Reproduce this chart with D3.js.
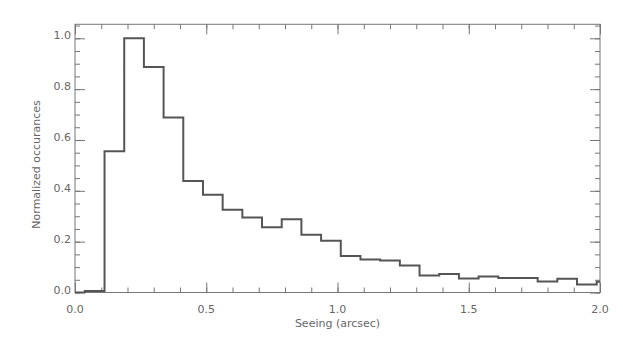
<!DOCTYPE html>
<html>
<head>
<meta charset="utf-8">
<script src="https://cdn.jsdelivr.net/npm/d3@7"></script>
<style>
  body { margin: 0; background: #fff; }
  text { font-family: "DejaVu Sans", sans-serif; fill: #666; }
</style>
</head>
<body>
<div id="chart"></div>
<script>
// histogram bins: centres at k * 0.075 arcsec
var binWidth = 0.075;
var binCenters = d3.range(0, 28).map(function(k){ return k * binWidth; });
var binValues = [0.0, 0.006, 0.556, 1.0, 0.887, 0.688, 0.439, 0.385, 0.326, 0.295,
                 0.257, 0.288, 0.227, 0.204, 0.144, 0.130, 0.126, 0.106, 0.067, 0.073,
                 0.055, 0.063, 0.057, 0.057, 0.043, 0.054, 0.031, 0.042];
var xTicks = [0.0, 0.5, 1.0, 1.5, 2.0];
var yTicks = [0.0, 0.2, 0.4, 0.6, 0.8, 1.0];

var width = 623, height = 343;
var pLeft = 75, pRight = 600, pTop = 24.3, pBottom = 292.5;

var svg = d3.select("#chart").append("svg")
  .attr("width", width)
  .attr("height", height);

var xScale = d3.scaleLinear().domain([0, 2]).range([pLeft, pRight]);
var yScale = d3.scaleLinear().domain([0, 1.055]).range([pBottom, pTop]);

var axisColor = "#777";

// minor + major ticks on all four sides, pointing inward
function ticks(axisFn, scale, majors, minors, pos, len, lenMinor){
  var g = svg.append("g").attr("transform", pos);
  g.call(axisFn(scale).tickValues(minors).tickSize(lenMinor).tickFormat(""));
  var g2 = svg.append("g").attr("transform", pos);
  g2.call(axisFn(scale).tickValues(majors).tickSize(len).tickFormat(""));
  [g, g2].forEach(function(gg){
    gg.select(".domain").remove();
    gg.selectAll("line").attr("stroke", axisColor);
  });
}

var xMinor = d3.range(0, 21).map(function(i){ return i / 10; });
var yMinor = d3.range(0, 22).map(function(i){ return i / 20; });

ticks(d3.axisBottom, xScale, xTicks, xMinor, "translate(0," + pBottom + ")", -10, -5);
ticks(d3.axisTop, xScale, xTicks, xMinor, "translate(0," + pTop + ")", -10, -5);
ticks(d3.axisLeft, yScale, yTicks, yMinor, "translate(" + pLeft + ",0)", -10, -5);
ticks(d3.axisRight, yScale, yTicks, yMinor, "translate(" + pRight + ",0)", -10, -5);

// frame
svg.append("rect")
  .attr("x", pLeft).attr("y", pTop)
  .attr("width", pRight - pLeft).attr("height", pBottom - pTop)
  .attr("fill", "none")
  .attr("stroke", axisColor)
  .attr("stroke-width", 1);

// tick labels
svg.append("g").selectAll("text")
  .data(xTicks).enter().append("text")
    .attr("x", function(d){ return xScale(d); })
    .attr("y", pBottom + 20)
    .attr("text-anchor", "middle")
    .style("font-size", "11px")
    .text(function(d){ return d.toFixed(1); });

svg.append("g").selectAll("text")
  .data(yTicks).enter().append("text")
    .attr("x", pLeft - 4)
    .attr("y", function(d){ return yScale(d) + 1; })
    .attr("text-anchor", "end")
    .style("font-size", "11px")
    .text(function(d){ return d.toFixed(1); });

// axis titles
svg.append("text")
  .attr("x", (pLeft + pRight) / 2)
  .attr("y", 327)
  .attr("text-anchor", "middle")
  .style("font-size", "11px")
  .text("Seeing (arcsec)");

svg.append("text")
  .attr("transform", "translate(40," + ((pTop + pBottom) / 2 + 6) + ") rotate(-90)")
  .attr("text-anchor", "middle")
  .style("font-size", "11px")
  .text("Normalized occurances");

// histogram step line
var pts = [];
binCenters.forEach(function(c, i){
  var x0 = Math.max(0, c - binWidth / 2);
  var x1 = Math.min(2, c + binWidth / 2);
  pts.push([x0, binValues[i]]);
  pts.push([x1, binValues[i]]);
});

var line = d3.line()
  .x(function(d){ return xScale(d[0]); })
  .y(function(d){ return yScale(d[1]); });

svg.append("clipPath").attr("id", "clip")
  .append("rect")
  .attr("x", pLeft).attr("y", pTop)
  .attr("width", pRight - pLeft).attr("height", pBottom - pTop + 1);

svg.append("path")
  .datum(pts)
  .attr("clip-path", "url(#clip)")
  .attr("d", line)
  .attr("fill", "none")
  .attr("stroke", "#555")
  .attr("stroke-width", 2);
</script>
</body>
</html>
